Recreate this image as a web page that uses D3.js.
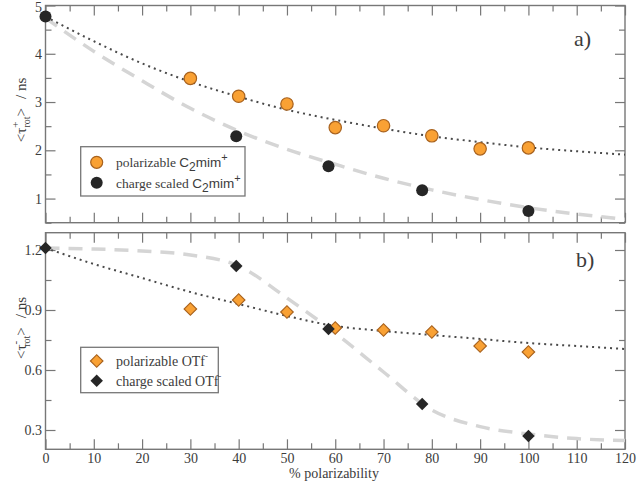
<!DOCTYPE html>
<html><head><meta charset="utf-8">
<script src="https://cdnjs.cloudflare.com/ajax/libs/d3/7.8.5/d3.min.js"></script>
<style>body{margin:0;background:#fff}svg{display:block}</style>
</head><body>
<svg id="c" width="637" height="484"></svg>
<script>
// ---------- data ----------
const xTicks = [0,10,20,30,40,50,60,70,80,90,100,110,120];
const xMinor = [5,15,25,35,45,55,65,75,85,95,105,115];
// panel a (cation)
const xPolA = [30,40,50,60,70,80,90,100];
const yPolA = [3.49,3.12,2.96,2.47,2.51,2.30,2.03,2.05];
const xCsA = [0,39.5,58.6,78,100];
const yCsA = [4.77,2.29,1.67,1.17,0.74];
const xFit = [0,10,20,30,40,50,60,70,80,90,100,110,120];
const yDotA = [4.77,4.26,3.80,3.42,3.11,2.84,2.63,2.45,2.29,2.17,2.06,1.98,1.91];
const yDashA = [4.74,4.05,3.44,2.87,2.40,2.02,1.71,1.42,1.18,0.98,0.81,0.68,0.57];
const yTicksA = [1,2,3,4,5];
const yMinorA = [0.5,1.5,2.5,3.5,4.5];
// panel b (anion)
const xPolB = [30,40,50,60,70,80,90,100];
const yPolB = [0.905,0.95,0.89,0.81,0.80,0.79,0.72,0.69];
const xCsB = [0,39.5,58.6,78,100];
const yCsB = [1.21,1.12,0.805,0.43,0.27];
const yDotB = [1.21,1.13,1.06,0.99,0.93,0.87,0.82,0.795,0.775,0.755,0.735,0.72,0.705];
const yDashB = [1.21,1.205,1.195,1.175,1.12,0.96,0.785,0.59,0.40,0.317,0.28,0.257,0.247];
const yTicksB = [0.3,0.6,0.9,1.2];
const yMinorB = [0.45,0.75,1.05];

// ---------- drawing ----------
const svg = d3.select("#c");
const SERIF = '"Liberation Serif"';
const SANS = '"Liberation Sans"';
const TXT = "#3c3c3c";
const FRAME = "#777";
const ORANGE = "#f9a134", ORANGE_S = "#a8621e", BLACK = "#262626";

const L = 45.5, R = 625;
const x = d3.scaleLinear().domain([0,120]).range([L,R]);

function panel(top, bottom, yDom, yMaj, yMin, fmt, showX) {
  const y = d3.scaleLinear().domain(yDom).range([bottom, top]);
  const g = svg.append("g");
  const axes = [
    [d3.axisBottom(x), `translate(0,${bottom})`, -10, xTicks, true],
    [d3.axisBottom(x), `translate(0,${bottom})`, -6, xMinor, false],
    [d3.axisTop(x), `translate(0,${top})`, -10, xTicks, false],
    [d3.axisTop(x), `translate(0,${top})`, -6, xMinor, false],
    [d3.axisLeft(y), `translate(${L},0)`, -10, yMaj, true],
    [d3.axisLeft(y), `translate(${L},0)`, -6, yMin, false],
    [d3.axisRight(y), `translate(${R},0)`, -10, yMaj, false],
    [d3.axisRight(y), `translate(${R},0)`, -6, yMin, false]
  ];
  axes.forEach(([ax, tr, size, vals, lab], i) => {
    const isX = i < 4;
    ax.tickValues(vals).tickSize(size);
    if (lab && (!isX || showX)) {
      ax.tickFormat(isX ? d3.format("d") : fmt).tickPadding(3.5);
    } else ax.tickFormat("");
    const a = g.append("g").attr("transform", tr).call(ax);
    a.attr("font-family", null).attr("font-size", null);
    a.select(".domain").remove();
    a.selectAll("line").attr("stroke", FRAME).attr("stroke-width", 1.2);
    a.selectAll("text").style("font-family", SERIF).style("font-size", "14px").attr("fill", TXT);
    // keep the top-most label inside the picture
    a.selectAll(".tick text").filter(d => !isX && y(d) < 8).attr("dy", "0.45em");
  });
  g.append("rect").attr("x", L).attr("y", top).attr("width", R-L).attr("height", bottom-top)
    .attr("fill", "none").attr("stroke", FRAME).attr("stroke-width", 1.4);
  return y;
}

function curves(y, yDot, yDash, clipId, top, bottom) {
  svg.append("clipPath").attr("id", clipId).append("rect")
    .attr("x", L).attr("y", top).attr("width", R-L).attr("height", bottom-top);
  const line = d3.line().x((d,i) => x(xFit[i])).y(d => y(d)).curve(d3.curveMonotoneX);
  svg.append("path").attr("d", line(yDash)).attr("fill","none").attr("stroke","#d5d5d5")
    .attr("stroke-width",3.5).attr("stroke-dasharray","14,9").attr("clip-path",`url(#${clipId})`);
  svg.append("path").attr("d", line(yDot)).attr("fill","none").attr("stroke","#4a4a4a")
    .attr("stroke-width",2).attr("stroke-dasharray","2,4").attr("clip-path",`url(#${clipId})`);
}

const diamond = d3.symbol().type(d3.symbolSquare).size(78)();

// Panel a
const topA = 5.5, botA = 222.7;
const yA = panel(topA, botA, [0.5,5], yTicksA, yMinorA, d3.format("d"), false);
curves(yA, yDotA, yDashA, "clipA", topA, botA);
svg.append("g").selectAll("circle").data(xPolA).join("circle")
  .attr("cx", d => x(d)).attr("cy", (d,i) => yA(yPolA[i])).attr("r", 6.2)
  .attr("fill", ORANGE).attr("stroke", ORANGE_S).attr("stroke-width", 1.2);
svg.append("g").selectAll("circle").data(xCsA).join("circle")
  .attr("cx", d => x(d)).attr("cy", (d,i) => yA(yCsA[i])).attr("r", 6)
  .attr("fill", BLACK);

// Panel b
const topB = 232.7, botB = 449.3;
const yB = panel(topB, botB, [0.2035,1.2865], yTicksB, yMinorB, d3.format(".1f"), true);
curves(yB, yDotB, yDashB, "clipB", topB, botB);
svg.append("g").selectAll("path").data(xPolB).join("path")
  .attr("d", diamond)
  .attr("transform", (d,i) => `translate(${x(d)},${yB(yPolB[i])}) rotate(45)`)
  .attr("fill", ORANGE).attr("stroke", ORANGE_S).attr("stroke-width", 1.2);
svg.append("g").selectAll("path").data(xCsB).join("path")
  .attr("d", diamond)
  .attr("transform", (d,i) => `translate(${x(d)},${yB(yCsB[i])}) rotate(45)`)
  .attr("fill", BLACK);

// Panel letters
svg.append("text").style("font-family", SERIF).attr("x", 574).attr("y", 46).style("font-size", "22px")
  .attr("fill", TXT).text("a)");
svg.append("text").style("font-family", SERIF).attr("x", 576).attr("y", 267).style("font-size", "22px")
  .attr("fill", TXT).text("b)");

// Y labels
function yLabel(cx, cy, sign) {
  const t = svg.append("text").style("font-family", SERIF).attr("transform", `translate(${cx},${cy}) rotate(-90)`)
    .attr("text-anchor", "middle").style("font-size", "15px").attr("fill", TXT);
  t.append("tspan").text("<τ");
  t.append("tspan").attr("dy", -7).style("font-size", "11px").text(sign);
  t.append("tspan").attr("dx", -6).attr("dy", 11).style("font-size", "10px").text("rot");
  t.append("tspan").attr("dy", -4).text(">");
  t.append("tspan").attr("dx", 9).text("/ ns");
}
yLabel(26, 110, "+");
yLabel(26, 328, "-");

// X title
svg.append("text").style("font-family", SERIF).attr("x", 334).attr("y", 478).attr("text-anchor", "middle")
  .style("font-size", "14px").attr("fill", TXT).text("% polarizability");

// Legend a
const lgA = svg.append("g");
lgA.append("rect").attr("x", 80.7).attr("y", 146.7).attr("width", 164.3).attr("height", 49.3)
  .attr("fill", "#fff").attr("stroke", FRAME).attr("stroke-width", 1.3);
const legA = [["polarizable ", ORANGE, ORANGE_S], ["charge scaled ", BLACK, "none"]];
legA.forEach(([lab, f, s], i) => {
  const cy = 162.3 + i*20.4;
  lgA.append("circle").attr("cx", 96.7).attr("cy", cy).attr("r", 6).attr("fill", f)
    .attr("stroke", s).attr("stroke-width", 1.2);
  const t = lgA.append("text").style("font-family", SERIF).attr("x", 116).attr("y", cy + 5)
    .style("font-size", "13.5px").attr("fill", TXT);
  t.append("tspan").text(lab);
  t.append("tspan").style("font-family", SANS).style("font-size", "13.5px").text("C");
  t.append("tspan").style("font-family", SANS).style("font-size", "12px").attr("dy", 4).text("2");
  t.append("tspan").style("font-family", SANS).style("font-size", "13.5px").attr("dy", -4).text("mim");
  t.append("tspan").style("font-family", SANS).style("font-size", "11px").attr("dy", -6).text("+");
});

// Legend b
const lgB = svg.append("g");
lgB.append("rect").attr("x", 80.7).attr("y", 347.3).attr("width", 137.6).attr("height", 45.4)
  .attr("fill", "#fff").attr("stroke", FRAME).attr("stroke-width", 1.3);
const legB = [["polarizable OTf", ORANGE, ORANGE_S], ["charge scaled OTf", BLACK, "none"]];
legB.forEach(([lab, f, s], i) => {
  const cy = 361 + i*19.7;
  lgB.append("path").attr("d", diamond).attr("transform", `translate(96.7,${cy}) rotate(45)`)
    .attr("fill", f).attr("stroke", s).attr("stroke-width", 1.2);
  const t = lgB.append("text").style("font-family", SERIF).attr("x", 116).attr("y", cy + 5)
    .style("font-size", "14px").attr("fill", TXT);
  t.append("tspan").text(lab);
  t.append("tspan").style("font-size", "9px").attr("dy", -7).text("-");
});
</script>
</body></html>
